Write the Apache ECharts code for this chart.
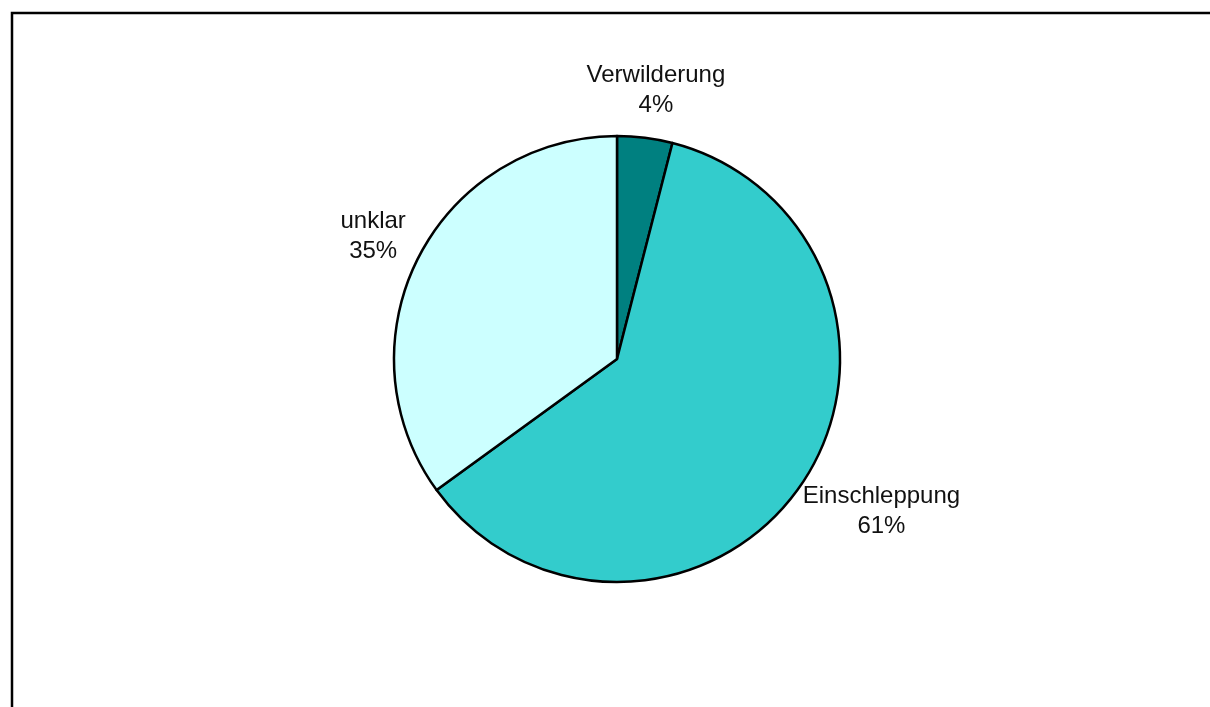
<!DOCTYPE html>
<html lang="de">
<head>
    <meta charset="UTF-8">
    <title>Herkunft</title>
    <style>
        html, body {
            margin: 0;
            padding: 0;
            background: #fff;
        }
        #J-pie-chart-container {
            width: 1210px;
            height: 707px;
        }
    </style>
</head>
<body>

<div id="J-pie-chart-container"></div>

<script src="https://cdn.jsdelivr.net/npm/echarts@6/dist/echarts.min.js"></script>
<script>
    var categories = ['Verwilderung', 'Einschleppung', 'unklar'];
    var shares = [4, 61, 35];
    var sliceColors = ['#008080', '#33CCCC', '#CCFFFF'];

    var pieCenter = [617, 359];
    var pieRadius = 223;
    var labelGap = 18;

    // mid angle of each slice, clockwise from 12 o'clock
    var total = shares.reduce(function (a, b) { return a + b; }, 0);
    var midAngles = [];
    var acc = 0;
    shares.forEach(function (v) {
        midAngles.push((acc + v / 2) / total * Math.PI * 2);
        acc += v;
    });

    var pieChart = echarts.init(document.getElementById('J-pie-chart-container'));

    var option = {
        animation: false,
        graphic: [
            {
                type: 'rect',
                shape: { x: 12, y: 13, width: 1240, height: 740 },
                style: { fill: null, stroke: '#000', lineWidth: 2.5 },
                silent: true
            }
        ],
        series: [
            {
                type: 'pie',
                center: pieCenter,
                radius: pieRadius,
                startAngle: 90,
                clockwise: true,
                percentPrecision: 0,
                data: categories.map(function (name, i) {
                    return {
                        name: name,
                        value: shares[i],
                        itemStyle: { color: sliceColors[i] }
                    };
                }),
                itemStyle: {
                    borderColor: '#000',
                    borderWidth: 2.5
                },
                label: {
                    position: 'outside',
                    formatter: '{b}\n{d}%',
                    fontFamily: '"Liberation Sans", Arial, sans-serif',
                    fontSize: 24,
                    lineHeight: 30,
                    color: '#111'
                },
                labelLine: {
                    show: false
                },
                labelLayout: function (params) {
                    var a = midAngles[params.dataIndex];
                    var dx = Math.sin(a);
                    var dy = -Math.cos(a);
                    var w = params.labelRect.width;
                    var h = params.labelRect.height;
                    var d = pieRadius + labelGap;
                    return {
                        x: pieCenter[0] + dx * d + dx * w / 2,
                        y: pieCenter[1] + dy * d + dy * h / 2,
                        align: 'center',
                        verticalAlign: 'middle'
                    };
                },
                emphasis: {
                    disabled: true
                }
            }
        ]
    };

    pieChart.setOption(option);
</script>
</body>
</html>
